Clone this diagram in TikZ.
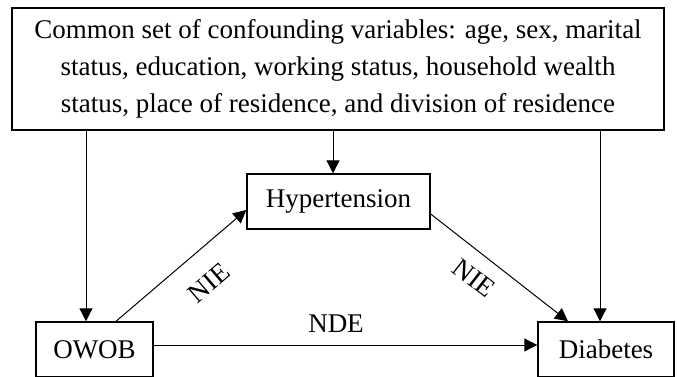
\documentclass[tikz,border=0pt]{standalone}
\usepackage{fontspec}
\setmainfont{Liberation Serif}
\usetikzlibrary{arrows.meta}
\def\labelfont{\fontsize{27}{37}\selectfont}
\tikzset{varbox/.style={draw, line width=1.4pt, inner xsep=0pt, minimum height=55pt, font=\labelfont},
    effect/.style={-{Triangle[length=13pt,width=13pt]}, line width=1pt},
    elabel/.style={font=\labelfont, inner sep=0pt}}

\begin{document}
\begin{tikzpicture}[x=1pt, y=1pt]
     \useasboundingbox (0,0) rectangle (677,376);
     \node[varbox, line width=2pt, minimum width=652pt, minimum height=122pt, align=center] (conf) at (338,307)
         {Common set of confounding variables: age, sex, marital\\
          status, education, working status, household wealth\\
          status, place of residence, and division of residence};
     \node[varbox, minimum width=183pt] (hyp) at (338.5,174.5) {Hypertension};
     \node[varbox, minimum width=117pt] (owob) at (94.5,26.5) {OWOB};
     \node[varbox, minimum width=136pt] (diab) at (606,26.5) {Diabetes};
     % confounders
     \draw[effect] (conf.south -| 86,0) -- (owob.north -| 86,0);
     \draw[effect] (conf.south -| 333,0) -- (hyp.north -| 333,0);
     \draw[effect] (conf.south -| 600,0) -- (diab.north -| 600,0);
     % indirect and direct paths
     \draw[effect] ([xshift=21.5pt]owob.north) -- ([yshift=-8.5pt]hyp.west);
     \draw[effect] ([yshift=-12.5pt]hyp.east) -- ([xshift=-38pt]diab.north);
     \draw[effect] ([yshift=4.5pt]owob.east) -- ([yshift=4.5pt]diab.west);
     \node[elabel, rotate=40.5] (nie1) at (209,93) {NIE};
     \node[elabel, rotate=-38] (nie2) at (474,98) {NIE};
     \node[elabel] (nde) at (336,52) {NDE};
 \end{tikzpicture}
\end{document}
